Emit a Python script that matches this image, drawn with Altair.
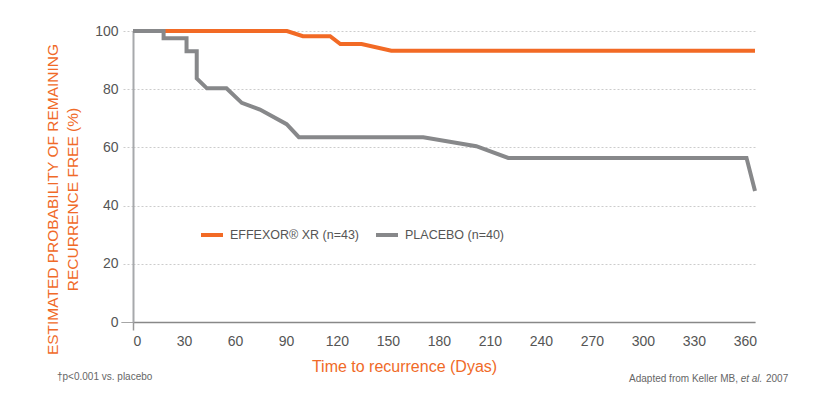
import altair as alt
import pandas as pd

# Effexor XR curve (days, % recurrence free)
effexor_days = [0, 90.6, 100, 116, 122, 134.5, 152, 366]
effexor_vals = [100, 100, 98.2, 98.2, 95.5, 95.5, 93.2, 93.2]

# Placebo curve
placebo_days = [0, 18, 18, 31.5, 31.5, 37.5, 37.5, 43.5, 55, 64, 74.7, 90.4, 97.6,
                170.8, 202, 220.8, 361, 366]
placebo_vals = [100, 100, 97.5, 97.5, 93, 93, 83.7, 80.3, 80.3, 75.3, 73, 68, 63.5,
                63.5, 60.4, 56.4, 56.4, 45]

series_names = ["EFFEXOR® XR (n=43)", "PLACEBO (n=40)"]
series_colors = ["#F26A25", "#87888A"]
x_ticks = [0, 30, 60, 90, 120, 150, 180, 210, 240, 270, 300, 330, 360]
y_ticks = [0, 20, 40, 60, 80, 100]

rows = []
for i, (d, v) in enumerate(zip(effexor_days, effexor_vals)):
    rows.append({"day": d, "value": v, "series": series_names[0], "order": i})
for i, (d, v) in enumerate(zip(placebo_days, placebo_vals)):
    rows.append({"day": d, "value": v, "series": series_names[1], "order": i})
df = pd.DataFrame(rows)

FONT = "Arial, Liberation Sans, Helvetica, sans-serif"
ORANGE = "#F06A28"
LABEL = "#555555"

x_axis = alt.Axis(
    values=x_ticks, grid=False, title="Time to recurrence (Dyas)",
    titleColor=ORANGE, titleFontSize=16, titleFontWeight="normal", titleFont=FONT,
    titleX=271, titleY=44, titleAlign="center", titleBaseline="middle",
    labelFont=FONT, labelFontSize=14, labelColor=LABEL, labelPadding=4,
    tickSize=8, tickWidth=1.5,
    tickColor={"condition": {"test": "datum.value === 0", "value": "#999999"}, "value": "transparent"},
    domainColor="#888888", domainWidth=1.5,
)
y_axis = alt.Axis(
    values=y_ticks, grid=True, gridColor="#cccccc", gridDash=[2, 2], gridWidth=1,
    title=["ESTIMATED PROBABILITY OF REMAINING", "RECURRENCE FREE (%)"],
    titleColor=ORANGE, titleFontSize=15.5, titleFontWeight="normal", titleFont=FONT,
    titleAngle=270, titleX=-81, titleY=168, titleAlign="center", titleBaseline="middle",
    titleLineHeight=20,
    labelFont=FONT, labelFontSize=14, labelColor=LABEL, labelPadding=3,
    tickSize=12, tickWidth=1,
    tickColor={"condition": {"test": "datum.value === 0", "value": "#888888"}, "value": "#cccccc"},
    tickDash={"condition": {"test": "datum.value === 0", "value": [1, 0]}, "value": [2, 2]},
    domainColor="#a7a9ac", domainWidth=2,
)

lines = alt.Chart(df).mark_line(strokeWidth=4, interpolate="linear", clip=False).encode(
    x=alt.X("day:Q", scale=alt.Scale(domain=[0, 366], nice=False), axis=x_axis),
    y=alt.Y("value:Q", scale=alt.Scale(domain=[0, 100], nice=False), axis=y_axis),
    color=alt.Color(
        "series:N",
        scale=alt.Scale(domain=series_names, range=series_colors),
        legend=alt.Legend(
            title=None, orient="none", legendX=66, legendY=191, direction="horizontal",
            symbolType="stroke", symbolStrokeWidth=4, symbolSize=484,
            labelFont=FONT, labelFontSize=12.5, labelColor=LABEL, labelOffset=5,
            columnPadding=8, padding=0,
        ),
    ),
    order="order:Q",
)

foot_left = alt.Chart(pd.DataFrame({"t": ["†p<0.001 vs. placebo"]})).mark_text(
    align="left", baseline="middle", font=FONT, fontSize=10, color="#666666"
).encode(text="t:N", x=alt.value(-76), y=alt.value(346))

foot_r1 = alt.Chart(pd.DataFrame({"t": ["Adapted from Keller MB,"]})).mark_text(
    align="right", baseline="middle", font=FONT, fontSize=10, color="#666666"
).encode(text="t:N", x=alt.value(605), y=alt.value(348))

foot_r2 = alt.Chart(pd.DataFrame({"t": ["et al."]})).mark_text(
    align="center", baseline="middle", font=FONT, fontSize=10, fontStyle="italic", color="#666666"
).encode(text="t:N", x=alt.value(618.5), y=alt.value(348))

foot_r3 = alt.Chart(pd.DataFrame({"t": ["2007"]})).mark_text(
    align="left", baseline="middle", font=FONT, fontSize=10, color="#666666"
).encode(text="t:N", x=alt.value(633), y=alt.value(348))

chart = alt.layer(lines, foot_left, foot_r1, foot_r2, foot_r3).properties(
    width=622, height=291,
    autosize=alt.AutoSizeParams(type="none"),
    padding={"left": 125, "top": 23, "right": 50, "bottom": 62},
).configure_view(stroke=None)

chart.save("out.html", embed_options={"renderer": "svg", "actions": False})
